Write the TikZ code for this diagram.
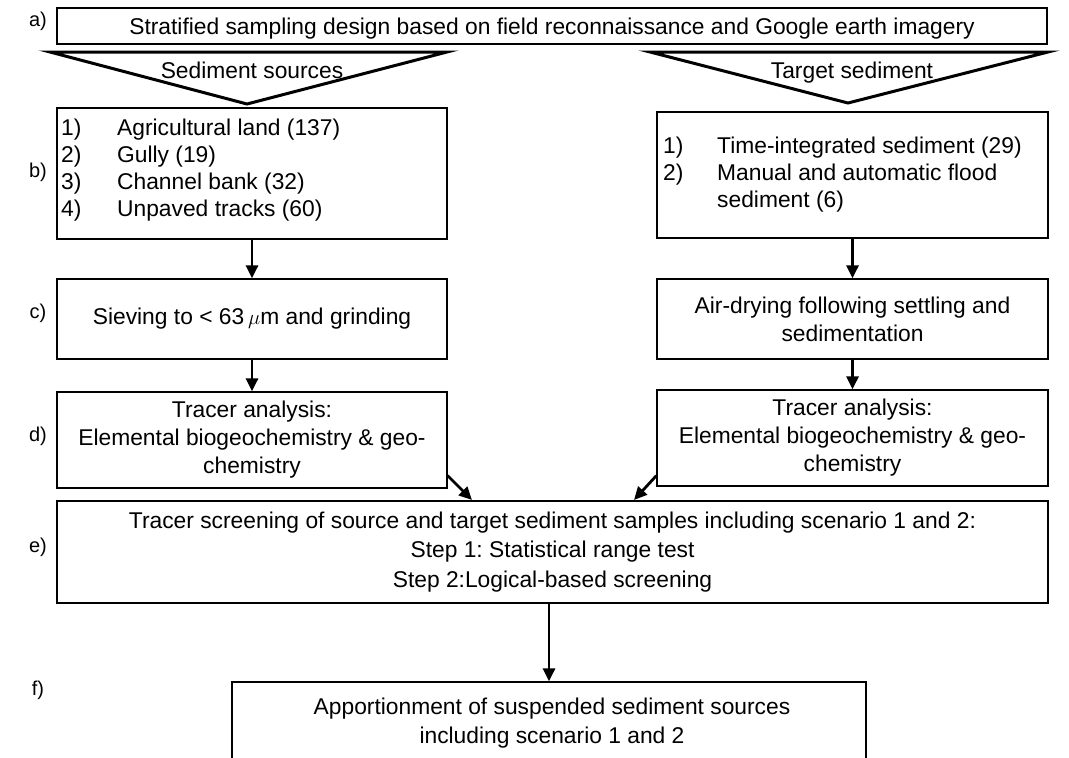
\documentclass[tikz,border=0pt]{standalone}
\usepackage{fontspec}
\setmainfont{Liberation Sans}
\usetikzlibrary{arrows.meta,calc}
\frenchspacing
\begin{document}
\begin{tikzpicture}[x=1pt,y=-1pt,
  box/.style={draw=black,line width=1.2pt,inner sep=0pt,fill=white},
  txt/.style={font=\fontsize{22.8}{28}\selectfont,align=center,inner sep=0pt},
  lbl/.style={font=\fontsize{20}{24}\selectfont,inner sep=0pt},
  arr/.style={line width=2.8pt,-{Triangle[length=13pt,width=12pt]}},
  tri/.style={draw=black,line width=3pt,line join=miter,fill=white}]
\useasboundingbox (0,0) rectangle (1069,758);
\clip (0,0) rectangle (1069,758);
% labels
\node[lbl] (la) at (38,21) {a)};
\node[lbl] (lb) at (38,172) {b)};
\node[lbl] (lc) at (38,313) {c)};
\node[lbl] (ld) at (38,436) {d)};
\node[lbl] (le) at (38,547) {e)};
\node[lbl] (lf) at (38,690) {f)};
% a
\node[box,minimum width=990,minimum height=36] (a) at (552,26) {};
\node[txt,anchor=base] (at) at (552,34)
  {Stratified sampling design based on field reconnaissance and Google earth imagery};
% triangles
\draw[tri] (50,52) -- (447,52) -- (247,104) -- cycle;
\draw[tri] (650,52) -- (1048,52) -- (848,103) -- cycle;
\node[txt,anchor=base] (ts) at (252,78) {Sediment sources};
\node[txt,anchor=base] (tt) at (852,78) {Target sediment};
% b
\node[box,minimum width=390,minimum height=131] (bL) at (252,173.5) {};
\node[txt,align=left,anchor=west,font=\fontsize{22.8}{27.2}\selectfont] (bLt) at (61,170)
  {\makebox[56pt][l]{1)}Agricultural land (137)\\
   \makebox[56pt][l]{2)}Gully (19)\\
   \makebox[56pt][l]{3)}Channel bank (32)\\
   \makebox[56pt][l]{4)}Unpaved tracks (60)};
\node[box,minimum width=391,minimum height=126] (bR) at (852.5,175) {};
\node[txt,align=left,anchor=west,font=\fontsize{22.8}{27}\selectfont] (bRt) at (663,175)
  {\makebox[54pt][l]{1)}Time-integrated sediment (29)\\
   \makebox[54pt][l]{2)}Manual and automatic flood\\
   \hspace*{54pt}sediment (6)};
% c
\node[box,txt,minimum width=390,minimum height=80] (cL) at (252,319)
  {Sieving to < 63\,$\mu$m and grinding};
\node[box,txt,minimum width=391,minimum height=80] (cR) at (852.5,319)
  {Air-drying following settling and\\ sedimentation};
% d
\node[box,txt,minimum width=390,minimum height=96] (dL) at (252,440)
  {Tracer analysis:\\ Elemental biogeochemistry \& geo-\\ chemistry};
\node[box,txt,minimum width=391,minimum height=96] (dR) at (852.5,438)
  {Tracer analysis:\\ Elemental biogeochemistry \& geo-\\ chemistry};
% e
\node[box,txt,minimum width=991,minimum height=102,font=\fontsize{22.8}{29.5}\selectfont] (e) at (552.5,552)
  {Tracer screening of source and target sediment samples including scenario 1 and 2:\\
   Step 1: Statistical range test\\ Step 2:Logical-based screening};
% f
\node[box,minimum width=634,minimum height=110] (f) at (549,737) {};
\node[txt,font=\fontsize{22.8}{29}\selectfont] (ft) at (552,723)
  {Apportionment of suspended sediment sources\\ including scenario 1 and 2};
% connectors
\coordinate (dLs) at ($(dL.south east)+(0,-13)$);
\coordinate (dRs) at ($(dR.south west)+(0,-11)$);
\coordinate (e1) at (472,500);
\coordinate (e2) at (634,500);
\draw[arr] (bL.south) -- (cL.north);
\draw[arr] (cL.south) -- (dL.north);
\draw[arr] (bR.south) -- (cR.north);
\draw[arr] (cR.south) -- (dR.north);
\draw[arr] (dLs) -- (e1);
\draw[arr] (dRs) -- (e2);
\draw[arr] (f.north |- e.south) -- (f.north);
\end{tikzpicture}
\end{document}
